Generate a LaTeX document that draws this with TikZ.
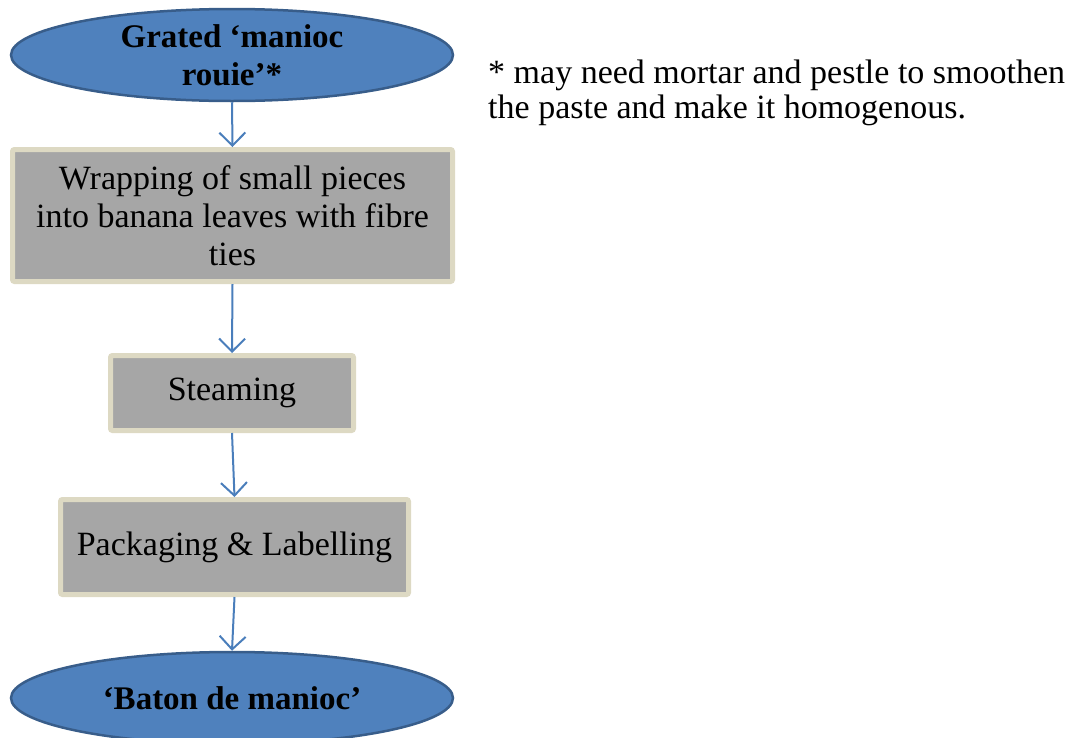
\documentclass[tikz,border=0pt]{standalone}
\usepackage{fontspec}
\setmainfont{Liberation Serif}
\usetikzlibrary{shapes.geometric,arrows.meta}
\definecolor{ellfill}{HTML}{4F81BD}
\definecolor{elldraw}{HTML}{385D8A}
\definecolor{boxfill}{HTML}{A6A6A6}
\definecolor{boxdraw}{HTML}{DDD9C3}
\definecolor{arrowc}{HTML}{4A7EBB}
\tikzset{
  terminal/.style={ellipse, fill=ellfill, draw=elldraw, line width=2.5pt, inner sep=0pt,
    minimum width=442pt, minimum height=92pt, align=center,
    font=\fontsize{33}{38}\selectfont\bfseries},
  stepbox/.style={rectangle, rounded corners=2pt, fill=boxfill, draw=boxdraw, line width=5pt,
    inner sep=0pt, align=center, font=\fontsize{34}{38}\selectfont},
  flow/.style={draw=arrowc, line width=2pt, -{Straight Barb[length=13pt,width=26pt,line width=2pt]}},
  note/.style={anchor=north west, align=left, inner sep=0pt, font=\fontsize{34}{35}\selectfont}
}
\begin{document}
\begin{tikzpicture}[x=1pt,y=-1pt]
\useasboundingbox (0,0) rectangle (1077,737);
\node[terminal] (start) at (232,55) {Grated ‘manioc\\rouie’*};
\node[stepbox, minimum width=440pt, minimum height=132pt] (wrap) at (232.5,215.5)
  {Wrapping of small pieces\\into banana leaves with fibre\\ties};
\node[stepbox, minimum width=243pt, minimum height=75pt] (steam) at (232,393) {Steaming};
\node[stepbox, minimum width=348pt, minimum height=95pt] (pack) at (234.5,547) {Packaging \& Labelling};
\node[terminal] (end) at (232,698) {‘Baton de manioc’};
\node[note] (fn) at (488,60) {* may need mortar and pestle to smoothen\\the paste and make it homogenous.};
\draw[flow] (start.south) -- (wrap.north);
\draw[flow] (wrap.south) -- (steam.north);
\draw[flow] (steam.south) -- (pack.north);
\draw[flow] (pack.south) -- (end.north);
\end{tikzpicture}
\end{document}
